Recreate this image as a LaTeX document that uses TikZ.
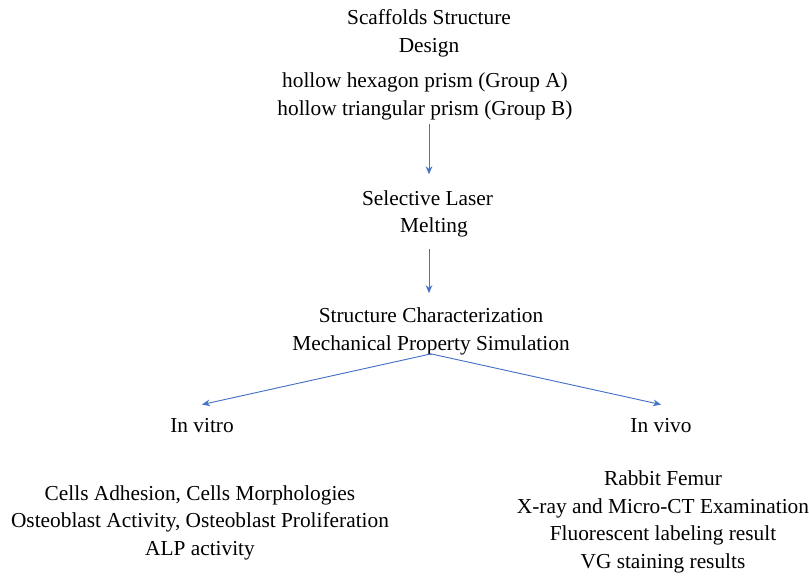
\documentclass[tikz,border=0pt]{standalone}
\usepackage{fontspec}
\setmainfont{Liberation Serif}
\usetikzlibrary{arrows.meta}
\definecolor{flowblue}{HTML}{4472C4}
\tikzset{
  txt/.style={align=center, inner sep=0pt, font=\fontsize{16}{20.6}\selectfont},
  flow/.style={draw=flowblue, line width=0.7pt, -{Stealth[length=6pt,width=5pt]}}
}
\begin{document}
\begin{tikzpicture}[x=0.75pt,y=-0.75pt]
\useasboundingbox (0,0) rectangle (809,576);
\node[txt] (title) at (429,33.5) {Scaffolds Structure\\Design};
\node[txt] (groups) at (425,96.5) {hollow hexagon prism (Group A)\\hollow triangular prism (Group B)};
\node[txt] (slm) at (427.5,214) {Selective Laser\\\hspace*{9.75pt}Melting};
\node[txt] (char) at (431,331.5) {Structure Characterization\\Mechanical Property Simulation};
\node[txt] (vitro) at (202,426) {In vitro};
\node[txt] (vivo) at (661,426) {In vivo};
\node[txt] (vitrolist) at (200,522.5) {Cells Adhesion, Cells Morphologies\\Osteoblast Activity, Osteoblast Proliferation\\ALP activity};
\node[txt] (vivolist) at (663,522) {Rabbit Femur\\X-ray and Micro-CT Examination\\Fluorescent labeling result\\VG staining results};

\draw[flow, shorten <=3pt, shorten >=12pt] (groups.south -| 429,0) -- (slm.north -| 429,0);
\draw[flow, shorten <=8.5pt, shorten >=11pt] (slm.south -| 429,0) -- (char.north -| 429,0);
\draw[flow] ([yshift=1pt]char.south) -- ([yshift=10.5pt]vitro.north);
\draw[flow] ([yshift=1pt]char.south) -- ([yshift=10.5pt]vivo.north);
\end{tikzpicture}
\end{document}
